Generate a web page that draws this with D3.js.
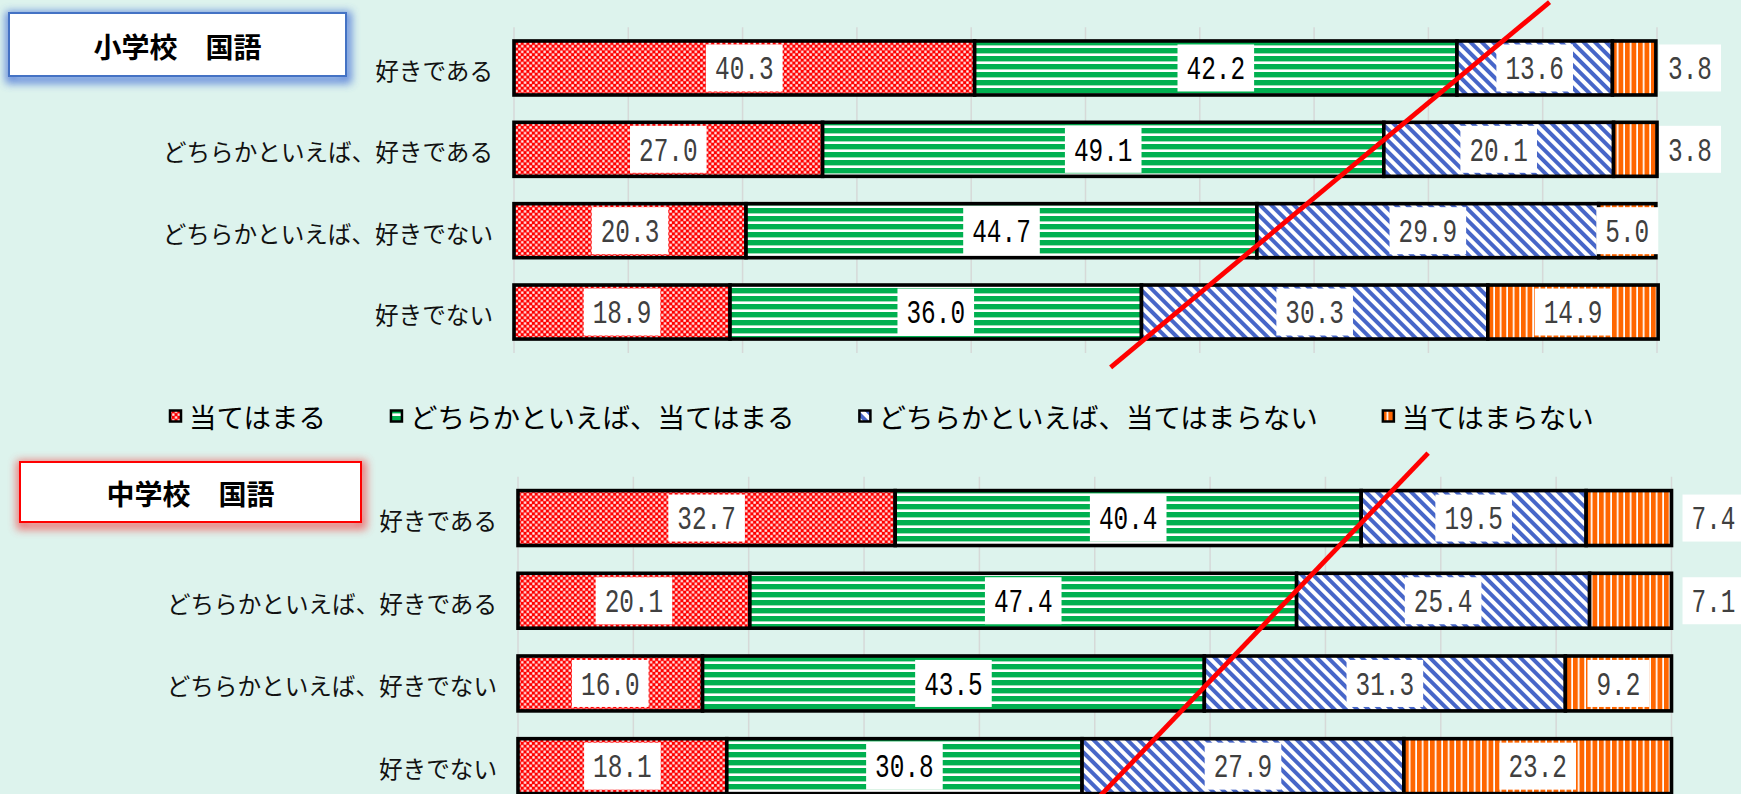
<!DOCTYPE html>
<html>
<head>
<meta charset="utf-8">
<script src="https://cdn.jsdelivr.net/npm/d3@7"></script>
<style>
  html, body { margin: 0; padding: 0; background: #DDF3ED; overflow: hidden; }
  svg { display: block; }
</style>
</head>
<body>
<svg id="chart" width="1741" height="794"></svg>
<script>
// ---- data ----
const categories = ["好きである", "どちらかといえば、好きである", "どちらかといえば、好きでない", "好きでない"];
const seriesNames = ["当てはまる", "どちらかといえば、当てはまる", "どちらかといえば、当てはまらない", "当てはまらない"];

const elementaryTitle = "小学校　国語";
const elementaryValues = [
  [40.3, 42.2, 13.6, 3.8],
  [27.0, 49.1, 20.1, 3.8],
  [20.3, 44.7, 29.9, 5.0],
  [18.9, 36.0, 30.3, 14.9]
];
// last-series labels written beside the bar end instead of inside it
const elementaryOutside = [true, true, false, false];
// guide stroke, as [percent, row position] pairs
const elementaryGuide = [[90.6, -0.81], [52.2, 3.68]];

const juniorTitle = "中学校　国語";
const juniorValues = [
  [32.7, 40.4, 19.5, 7.4],
  [20.1, 47.4, 25.4, 7.1],
  [16.0, 43.5, 31.3, 9.2],
  [18.1, 30.8, 27.9, 23.2]
];
const juniorOutside = [true, true, false, false];
const juniorGuide = [[78.9, -0.786], [49.85, 3.45]];

const gridTicks = [0, 10, 20, 30, 40, 50, 60, 70, 80, 90, 100];

// ---- styling ----
const labelInk = ["#404040", "#000000", "#404040", "#404040"];
const jpFont = "'Noto Sans CJK JP', 'Noto Sans', sans-serif";
const numFont = "'Liberation Mono', 'DejaVu Sans Mono', monospace";

const svg = d3.select("#chart");
const defs = svg.append("defs");

// fill patterns for the four series
const p0 = defs.append("pattern").attr("id", "pat0")
  .attr("patternUnits", "userSpaceOnUse").attr("width", 5.6).attr("height", 5.6);
p0.append("rect").attr("width", 5.6).attr("height", 5.6).attr("fill", "#FF0000");
p0.append("rect").attr("x", 0.3).attr("y", 0.3).attr("width", 2.3).attr("height", 2.3).attr("fill", "#FFFFFF");
p0.append("rect").attr("x", 3.1).attr("y", 3.1).attr("width", 2.3).attr("height", 2.3).attr("fill", "#FFFFFF");

const p1 = defs.append("pattern").attr("id", "pat1")
  .attr("patternUnits", "userSpaceOnUse").attr("width", 8).attr("height", 8);
p1.append("rect").attr("width", 8).attr("height", 8).attr("fill", "#FFFFFF");
p1.append("rect").attr("y", 0).attr("width", 8).attr("height", 5).attr("fill", "#00B050");
p1.append("rect").attr("y", 5).attr("width", 8).attr("height", 1).attr("fill", "#9BDDB6");

const p2 = defs.append("pattern").attr("id", "pat2")
  .attr("patternUnits", "userSpaceOnUse").attr("width", 8).attr("height", 8)
  .attr("patternTransform", "rotate(-45)");
p2.append("rect").attr("width", 8).attr("height", 8).attr("fill", "#FFFFFF");
p2.append("rect").attr("width", 4).attr("height", 8).attr("fill", "#4766C8");

const p3 = defs.append("pattern").attr("id", "pat3")
  .attr("patternUnits", "userSpaceOnUse").attr("width", 6.5).attr("height", 6.5);
p3.append("rect").attr("width", 6.5).attr("height", 6.5).attr("fill", "#FFFFFF");
p3.append("rect").attr("width", 4.8).attr("height", 6.5).attr("fill", "#FF6600");

// soft glow used behind the title boxes
const glow = defs.append("filter").attr("id", "glow")
  .attr("x", "-20%").attr("y", "-50%").attr("width", "140%").attr("height", "200%");
glow.append("feGaussianBlur").attr("stdDeviation", 4.5);

// ---- panels ----
const panels = [
  {
    title: elementaryTitle, values: elementaryValues, outside: elementaryOutside, guide: elementaryGuide,
    xRange: [514, 1657], yRange: [27.3, 352.7], gridBottom: 353, labelRight: 493,
    box: { x: 9, y: 13, w: 337, h: 63 }, boxColor: "#4472C4", glowColor: "#4F78D8",
    outsideGap: 33
  },
  {
    title: juniorTitle, values: juniorValues, outside: juniorOutside, guide: juniorGuide,
    xRange: [518, 1671.5], yRange: [476.7, 807.5], gridBottom: 800, labelRight: 497,
    box: { x: 20, y: 462, w: 341, h: 60 }, boxColor: "#FF0000", glowColor: "#EE6060",
    outsideGap: 42
  }
];

panels.forEach(p => {
  const g = svg.append("g");
  const x = d3.scaleLinear().domain([0, 100]).range(p.xRange);
  const y = d3.scaleBand().domain(categories).range(p.yRange).paddingInner(0.336).paddingOuter(0.168);
  const rowPos = d3.scaleLinear().domain([0, 1])
    .range([y(categories[0]) + y.bandwidth() / 2, y(categories[1]) + y.bandwidth() / 2]);

  // vertical gridlines
  g.append("g").selectAll("line").data(gridTicks).join("line")
    .attr("x1", d => x(d)).attr("x2", d => x(d))
    .attr("y1", p.yRange[0]).attr("y2", p.gridBottom)
    .attr("stroke", "#D6D9D8").attr("stroke-width", 1.5);

  // stacked segments
  const rows = p.values.map((vals, ri) => {
    let acc = 0;
    return vals.map((v, si) => {
      const seg = { cat: categories[ri], row: ri, series: si, value: v, x0: acc, x1: acc + v };
      acc += v;
      return seg;
    });
  });
  const segs = rows.flat();

  g.append("g").selectAll("rect").data(segs).join("rect")
    .attr("x", d => x(d.x0)).attr("width", d => x(d.x1) - x(d.x0))
    .attr("y", d => y(d.cat)).attr("height", y.bandwidth())
    .attr("fill", d => `url(#pat${d.series})`)
    .attr("stroke", "#000").attr("stroke-width", 3.6);

  // value labels on white plates
  const fs = 33, sx = 0.74;
  const lab = g.append("g").selectAll("g").data(segs).join("g")
    .attr("transform", d => {
      const cy = y(d.cat) + y.bandwidth() / 2;
      const isOut = d.series === 3 && p.outside[d.row];
      const cx = isOut ? x(100) + p.outsideGap : (x(d.x0) + x(d.x1)) / 2;
      return `translate(${cx},${cy})`;
    });
  const plates = lab.append("rect").attr("fill", "#FFFFFF");
  const texts = lab.append("text")
    .attr("transform", `scale(${sx},1)`)
    .attr("text-anchor", "middle")
    .attr("y", fs * 0.34)
    .attr("font-family", numFont).attr("font-size", fs)
    .attr("fill", d => labelInk[d.series])
    .text(d => d.value.toFixed(1));
  texts.each(function (d) { d.tw = this.getComputedTextLength() * sx; });
  plates.attr("x", d => -(d.tw / 2 + 9)).attr("width", d => d.tw + 18)
    .attr("y", -23.5).attr("height", 47);

  // guide stroke
  g.append("line")
    .attr("x1", x(p.guide[0][0])).attr("y1", rowPos(p.guide[0][1]))
    .attr("x2", x(p.guide[1][0])).attr("y2", rowPos(p.guide[1][1]))
    .attr("stroke", "#FF0000").attr("stroke-width", 4.8).attr("stroke-linecap", "butt");

  // category labels
  g.append("g").selectAll("text").data(categories).join("text")
    .attr("x", p.labelRight).attr("y", d => y(d) + y.bandwidth() / 2 + 2)
    .attr("text-anchor", "end").attr("dominant-baseline", "central")
    .attr("font-family", jpFont).attr("font-size", 23.6).attr("fill", "#111")
    .text(d => d);

  // title box with a soft coloured glow
  const b = p.box;
  g.append("rect").attr("x", b.x + 1).attr("y", b.y + 3).attr("width", b.w).attr("height", b.h)
    .attr("fill", "none").attr("stroke", p.glowColor).attr("stroke-width", 9)
    .attr("filter", "url(#glow)").attr("opacity", 0.85);
  g.append("rect").attr("x", b.x).attr("y", b.y).attr("width", b.w).attr("height", b.h)
    .attr("fill", "#FFFFFF").attr("stroke", p.boxColor).attr("stroke-width", 2);
  g.append("text").attr("x", b.x + b.w / 2).attr("y", b.y + b.h / 2 + 1)
    .attr("text-anchor", "middle").attr("dominant-baseline", "central")
    .attr("font-family", jpFont).attr("font-size", 28).attr("font-weight", "bold").attr("fill", "#000")
    .text(p.title);
});

// ---- legend ----
const legend = svg.append("g").attr("transform", "translate(169,416)");
let lx = 0;
seriesNames.forEach((name, i) => {
  const item = legend.append("g").attr("transform", `translate(${lx},0)`);
  item.append("rect").attr("x", 1).attr("y", -5.5).attr("width", 11).attr("height", 11)
    .attr("fill", `url(#pat${i})`).attr("stroke", "#000").attr("stroke-width", 2.5);
  const t = item.append("text").attr("x", 20).attr("y", 0)
    .attr("dominant-baseline", "central")
    .attr("font-family", jpFont).attr("font-size", 27.5).attr("fill", "#000")
    .text(name);
  lx += 20 + t.node().getComputedTextLength() + 64;
});
</script>
</body>
</html>
